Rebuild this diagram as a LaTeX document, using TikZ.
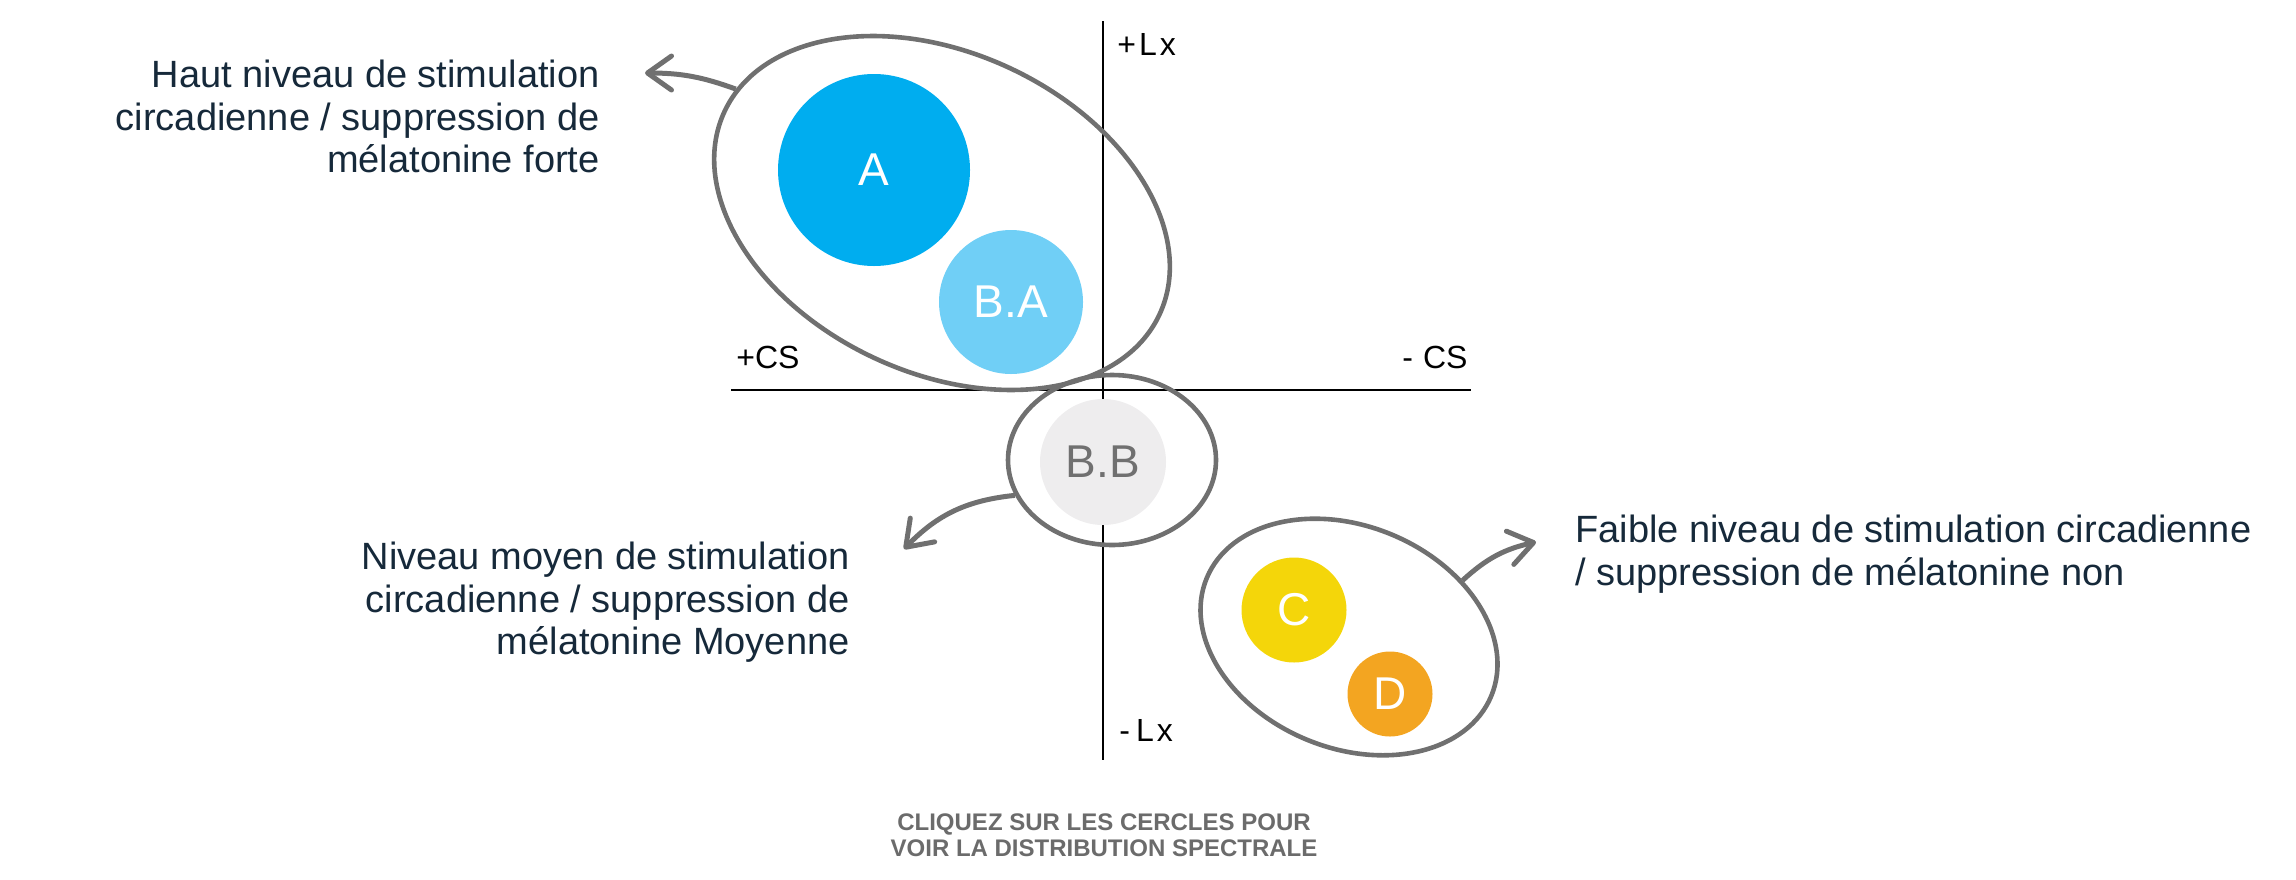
\documentclass[tikz,border=0pt]{standalone}
\usepackage{fontspec}
\setmainfont{Liberation Sans}
\usetikzlibrary{arrows.meta, shapes.geometric}
\definecolor{outline}{HTML}{707070}
\definecolor{ink}{HTML}{16293A}
\definecolor{hint}{HTML}{6B6B6B}
\definecolor{cA}{HTML}{00ADEF}
\definecolor{cBA}{HTML}{70CFF6}
\definecolor{cBB}{HTML}{EEEDEE}
\definecolor{cC}{HTML}{F4D60A}
\definecolor{cD}{HTML}{F3A521}

\begin{document}
\begin{tikzpicture}[x=0.5pt, y=-0.5pt,
  grp/.style = {shape=ellipse, draw=outline, line width=2.3pt, inner sep=0pt},
  dot/.style = {shape=circle, inner sep=0pt, text=white, font=\fontsize{23}{27}\selectfont},
  lbl/.style = {inner sep=0pt, text=ink, font=\fontsize{19}{21.25}\selectfont},
  ax/.style = {inner sep=0pt, anchor=base west, font=\fontsize{16}{19}\selectfont},
  arr/.style = {draw=outline, line width=2.5pt, -{Straight Barb[length=12pt, width=17pt, round]}}]

  \useasboundingbox (0,0) rectangle (2296,879);

  \coordinate (ytop) at (1103,21);
  \coordinate (ybot) at (1103,760);
  \coordinate (xleft) at (731,390);
  \coordinate (xright) at (1471,390);
  \draw[line width=1pt] (ytop) -- (ybot);
  \draw[line width=1pt] (xleft) -- (xright);

  \node[ax] (plusLx) at (1117,55) {+\kern1.5pt L\kern1.5pt x};
  \node[ax] (minusLx) at (1119,741) {-\kern3pt L\kern1.5pt x};
  \node[ax] (plusCS) at (736,368) {+CS};
  \node[ax] (minusCS) at (1402,368) {-\kern5pt CS};

  \node[grp, minimum width=240pt, minimum height=160pt, rotate=-25] (grpA) at (942,213) {};
  \node[grp, minimum width=104pt, minimum height=85pt] (grpB) at (1112,460) {};
  \node[grp, minimum width=154pt, minimum height=111pt, rotate=-22.5] (grpC) at (1349,637) {};

  \node[dot, fill=cA, minimum size=96pt] (A) at (874,170) {A};
  \node[dot, fill=cBA, minimum size=72pt] (BA) at (1011,302) {B.A};
  \node[dot, fill=cBB, text=outline, minimum size=63pt] (BB) at (1103,462) {B.B};
  \node[dot, fill=cC, minimum size=52.5pt] (C) at (1294,610) {C};
  \node[dot, fill=cD, minimum size=42.5pt] (D) at (1390,694) {D};

  \node[lbl, align=right, anchor=north east] (txtA) at (600,60)
    {Haut niveau de stimulation\\circadienne / suppression de\\mélatonine forte};
  \node[lbl, align=right, anchor=north east] (txtB) at (850,542)
    {Niveau moyen de stimulation\\circadienne / suppression de\\mélatonine Moyenne};
  \node[lbl, align=left, anchor=north west] (txtC) at (1575,515)
    {Faible niveau de stimulation circadienne\\/ suppression de mélatonine non};

  \coordinate (tipA) at (645,73);
  \coordinate (tipB) at (904,549);
  \coordinate (tipC) at (1536,542);
  \draw[arr] (grpA.174) to[bend right=10] (tipA);
  \draw[arr] (grpB.200) to[bend right=20] (tipB);
  \draw[arr] (grpC.49) to[bend left=15] (tipC);

  \node[inner sep=0pt, anchor=north, align=center, text=hint,
    font=\bfseries\fontsize{12}{13}\selectfont] (hint) at (1104,813)
    {CLIQUEZ SUR LES CERCLES POUR\\VOIR LA DISTRIBUTION SPECTRALE};
\end{tikzpicture}
\end{document}
